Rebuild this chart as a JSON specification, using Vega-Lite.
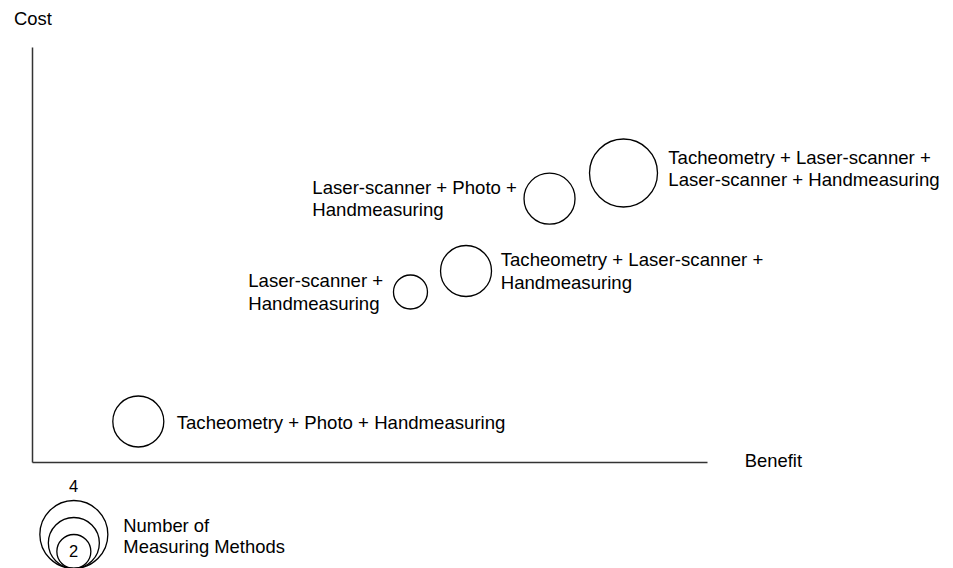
{
  "$schema": "https://vega.github.io/schema/vega-lite/v6.json",
  "width": 675,
  "height": 415,
  "autosize": {"type": "none"},
  "padding": {"left": 32, "top": 47, "right": 246, "bottom": 106},
  "background": "white",
  "config": {
    "view": {"stroke": null},
    "font": "Liberation Sans",
    "text": {"font": "Liberation Sans", "fontSize": 18.6, "color": "black"}
  },
  "datasets": {
    "options": [
      {"id": 1, "label": "Tacheometry + Photo + Handmeasuring", "benefit": 15.75, "cost": 9.76, "methods": 3},
      {"id": 2, "label": "Laser-scanner +\nHandmeasuring", "benefit": 56.07, "cost": 40.96, "methods": 2},
      {"id": 3, "label": "Tacheometry + Laser-scanner +\nHandmeasuring", "benefit": 64.3, "cost": 46.02, "methods": 3},
      {"id": 4, "label": "Laser-scanner + Photo +\nHandmeasuring", "benefit": 76.67, "cost": 63.45, "methods": 3},
      {"id": 5, "label": "Tacheometry + Laser-scanner +\nLaser-scanner + Handmeasuring", "benefit": 87.63, "cost": 69.64, "methods": 4}
    ],
    "legend": [{"methods": 2}, {"methods": 3}, {"methods": 4}]
  },
  "layer": [
    {
      "data": {"name": "options"},
      "mark": {"type": "point", "shape": "circle", "filled": false, "stroke": "black", "strokeWidth": 1.3, "opacity": 1},
      "encoding": {
        "x": {
          "field": "benefit", "type": "quantitative",
          "scale": {"domain": [0, 100], "nice": false, "zero": false},
          "axis": {"title": "Benefit", "titleAlign": "left", "titleBaseline": "alphabetic", "titleX": 712.3, "titleY": 4.7,
                   "titleFont": "Liberation Sans", "titleFontSize": 18.4, "titleFontWeight": "normal", "titleColor": "black",
                   "ticks": false, "labels": false, "grid": false, "domainColor": "#333", "domainWidth": 1.5}
        },
        "y": {
          "field": "cost", "type": "quantitative",
          "scale": {"domain": [0, 100], "nice": false, "zero": false},
          "axis": {"title": "Cost", "titleAngle": 0, "titleAlign": "center", "titleBaseline": "alphabetic", "titleX": 0.5, "titleY": -22.5,
                   "titleFont": "Liberation Sans", "titleFontSize": 18.4, "titleFontWeight": "normal", "titleColor": "black",
                   "ticks": false, "labels": false, "grid": false, "domainColor": "#333", "domainWidth": 1.5}
        },
        "size": {"field": "methods", "type": "quantitative", "scale": {"type": "pow", "exponent": 2, "domain": [0, 4], "range": [0, 4624]}, "legend": null}
      }
    },
    {
      "data": {"name": "options"},
      "transform": [{"filter": "datum.id === 1"}],
      "mark": {"type": "text", "align": "left", "baseline": "middle", "dx": 38.4, "dy": 1.8, "lineBreak": "\n", "lineHeight": 22.5},
      "encoding": {"x": {"field": "benefit", "type": "quantitative"}, "y": {"field": "cost", "type": "quantitative"}, "text": {"field": "label"}}
    },
    {
      "data": {"name": "options"},
      "transform": [{"filter": "datum.id === 2"}],
      "mark": {"type": "text", "align": "left", "baseline": "middle", "dx": -162.2, "dy": -11, "lineBreak": "\n", "lineHeight": 22.5},
      "encoding": {"x": {"field": "benefit", "type": "quantitative"}, "y": {"field": "cost", "type": "quantitative"}, "text": {"field": "label"}}
    },
    {
      "data": {"name": "options"},
      "transform": [{"filter": "datum.id === 3"}],
      "mark": {"type": "text", "align": "left", "baseline": "middle", "dx": 34.7, "dy": -10.9, "lineBreak": "\n", "lineHeight": 22.5},
      "encoding": {"x": {"field": "benefit", "type": "quantitative"}, "y": {"field": "cost", "type": "quantitative"}, "text": {"field": "label"}}
    },
    {
      "data": {"name": "options"},
      "transform": [{"filter": "datum.id === 4"}],
      "mark": {"type": "text", "align": "left", "baseline": "middle", "dx": -237.2, "dy": -11.1, "lineBreak": "\n", "lineHeight": 22.5},
      "encoding": {"x": {"field": "benefit", "type": "quantitative"}, "y": {"field": "cost", "type": "quantitative"}, "text": {"field": "label"}}
    },
    {
      "data": {"name": "options"},
      "transform": [{"filter": "datum.id === 5"}],
      "mark": {"type": "text", "align": "left", "baseline": "middle", "dx": 44.8, "dy": -15.4, "lineBreak": "\n", "lineHeight": 22.5},
      "encoding": {"x": {"field": "benefit", "type": "quantitative"}, "y": {"field": "cost", "type": "quantitative"}, "text": {"field": "label"}}
    },
    {
      "data": {"name": "legend"},
      "mark": {"type": "point", "shape": "M0,0A1,1,0,1,1,0,-2A1,1,0,1,1,0,0Z", "filled": false, "stroke": "black", "strokeWidth": 1.3, "opacity": 1},
      "encoding": {
        "x": {"datum": 6.2, "type": "quantitative"},
        "y": {"datum": -25.66, "type": "quantitative"},
        "size": {"field": "methods", "type": "quantitative"}
      }
    },
    {
      "data": {"name": "legend"},
      "transform": [{"filter": "datum.methods === 4"}],
      "mark": {"type": "text", "align": "center", "baseline": "alphabetic", "fontSize": 16.5},
      "encoding": {"x": {"datum": 6.18, "type": "quantitative"}, "y": {"datum": -7.16, "type": "quantitative"}, "text": {"field": "methods", "type": "quantitative"}}
    },
    {
      "data": {"name": "legend"},
      "transform": [{"filter": "datum.methods === 2"}],
      "mark": {"type": "text", "align": "center", "baseline": "alphabetic", "fontSize": 16.5},
      "encoding": {"x": {"datum": 6.18, "type": "quantitative"}, "y": {"datum": -22.82, "type": "quantitative"}, "text": {"field": "methods", "type": "quantitative"}}
    },
    {
      "data": {"name": "legend"},
      "transform": [{"filter": "datum.methods === 4"}],
      "mark": {"type": "text", "align": "left", "baseline": "alphabetic", "fontSize": 18.4, "lineBreak": "\n", "lineHeight": 21.6, "text": "Number of\nMeasuring Methods"},
      "encoding": {"x": {"datum": 13.53, "type": "quantitative"}, "y": {"datum": -16.8, "type": "quantitative"}}
    }
  ]
}
